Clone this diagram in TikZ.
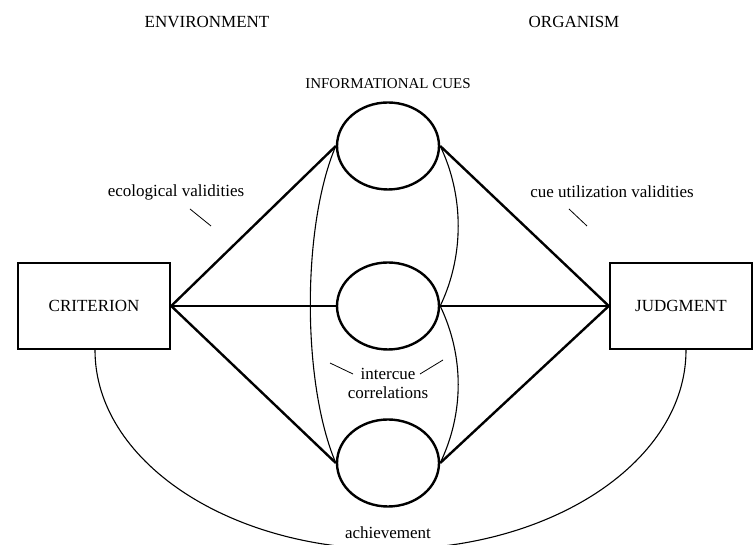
\documentclass[tikz,border=0pt]{standalone}
\usepackage{fontspec}
\setmainfont{Liberation Serif}
\usetikzlibrary{shapes.geometric}
\tikzstyle{cue} = [ellipse, draw, line width=2.4pt, minimum width=102pt, minimum height=87pt, inner sep=0pt]
\tikzstyle{box} = [rectangle, draw, line width=2.4pt, minimum height=86pt, inner sep=0pt, font=\fontsize{17}{20}\selectfont]
\tikzstyle{link} = [line width=2.4pt]
\tikzstyle{corr} = [line width=1.1pt]
\tikzstyle{tick} = [line width=0.8pt]
\tikzstyle{lbl} = [inner sep=0pt, font=\fontsize{17}{19}\selectfont]

\begin{document}
\begin{tikzpicture}[x=1pt,y=1pt]
\path[use as bounding box, clip] (0,0) rectangle (755,545);

\node[box, minimum width=152pt] (crit) at (94,239) {CRITERION};
\node[box, minimum width=142pt] (judg) at (681,239) {JUDGMENT};
\node[cue] (cueA) at (388,399) {};
\node[cue] (cueB) at (388,239) {};
\node[cue] (cueC) at (388,82) {};

\node[lbl] (env) at (207,523) {ENVIRONMENT};
\node[lbl] (org) at (574,523) {ORGANISM};
\node[lbl, font=\fontsize{15}{17}\selectfont] (cues) at (388,461) {INFORMATIONAL CUES};
\node[lbl] (eco) at (176,353) {ecological validities};
\node[lbl] (util) at (612,353) {cue utilization validities};
\node[lbl, align=center] (inter) at (388,162) {intercue\\correlations};
\node[lbl] (ach) at (388,12) {achievement};

\foreach \c in {cueA,cueB,cueC} {
  \draw[link] (crit.east) -- (\c.west);
  \draw[link] (\c.east) -- (judg.west);
}

\draw[corr] (cueA.west) .. controls +(-34,-80) and +(-34,80) .. (cueC.west);
\draw[corr] (cueA.east) .. controls +(24,-50) and +(24,50) .. (cueB.east);
\draw[corr] (cueB.east) .. controls +(24,-50) and +(24,50) .. (cueC.east);
\draw[corr] ([xshift=1pt]crit.south) arc[start angle=180, end angle=360, x radius=295.5, y radius=199];

\draw[tick] ([shift={(14,-17)}]eco.center) -- ++(21,-17);
\draw[tick] ([shift={(-43,-17)}]util.center) -- ++(18,-17);
\draw[tick] ([shift={(-58,20)}]inter.center) -- ++(23,-11);
\draw[tick] ([shift={(55,23)}]inter.center) -- ++(-23,-14);

\end{tikzpicture}
\end{document}
